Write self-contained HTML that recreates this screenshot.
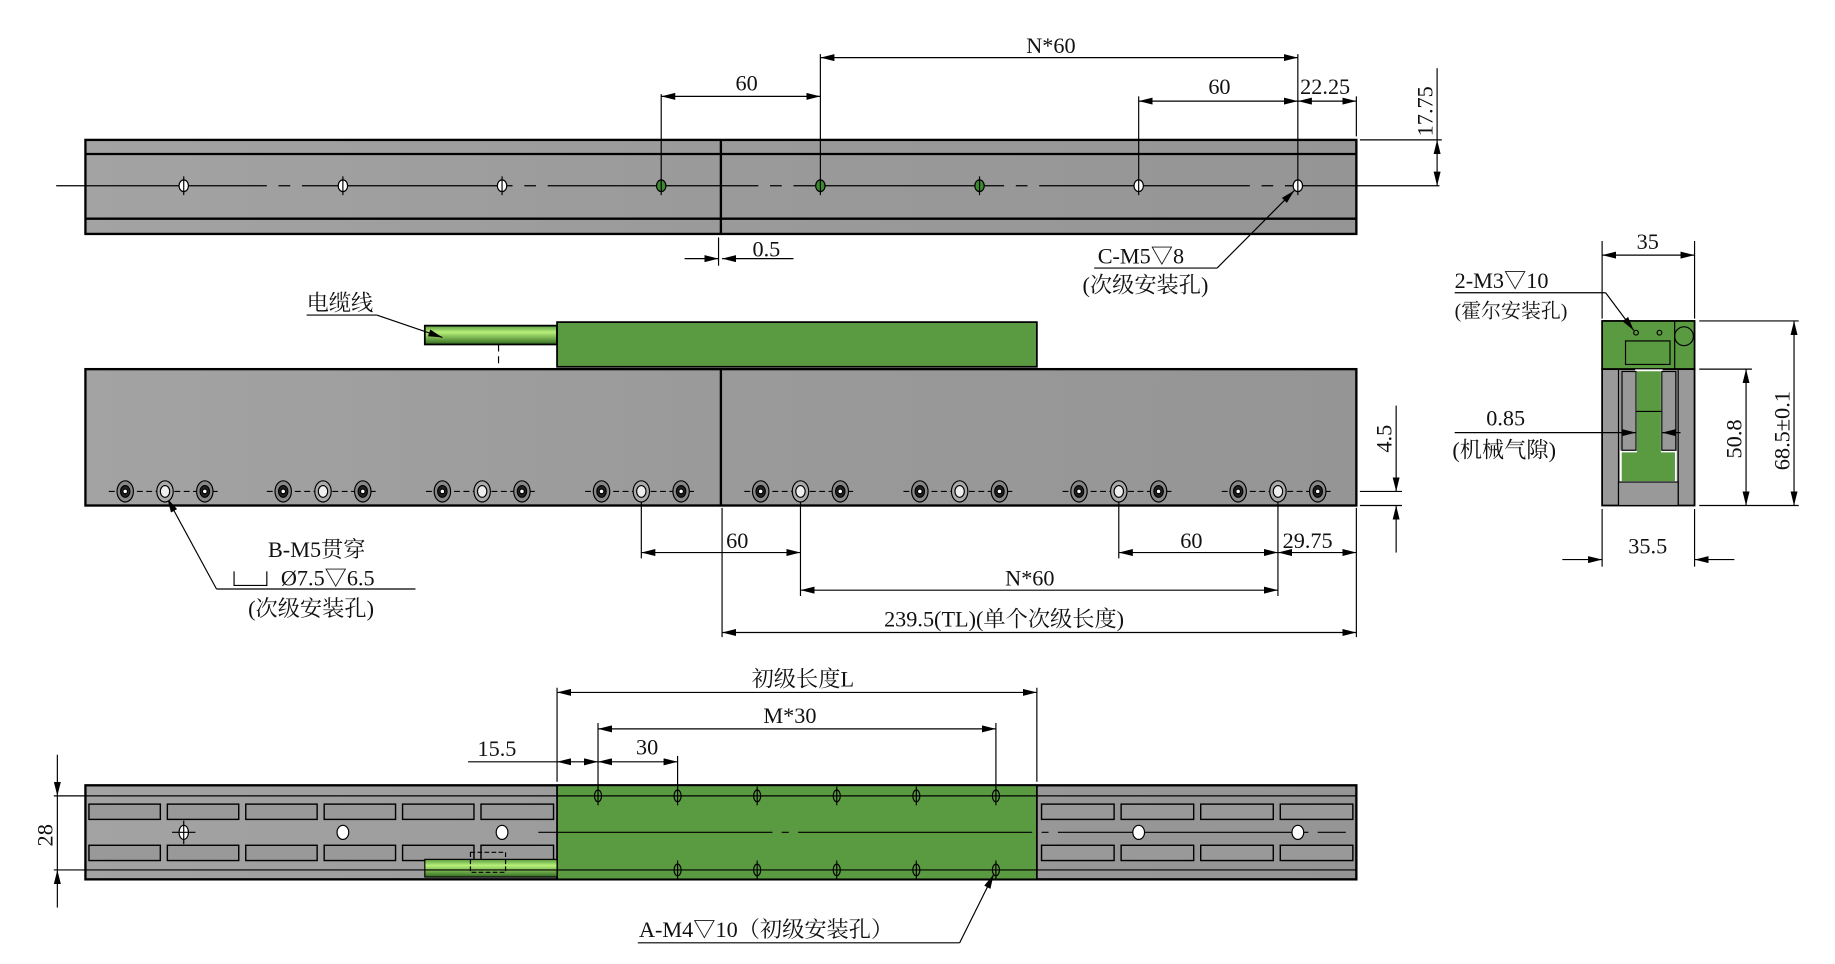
<!DOCTYPE html>
<html><head><meta charset="utf-8"><style>
html,body{margin:0;padding:0;background:#fff;}
svg{display:block;}
text{font-family:"Liberation Serif","Noto Serif CJK SC",serif;font-size:19px;fill:#111;}
</style></head><body>
<svg width="1835" height="964" viewBox="0 0 1568 820" preserveAspectRatio="none" xmlns="http://www.w3.org/2000/svg">
<defs>
<marker id="a" viewBox="0 0 12 6" refX="12" refY="3" markerWidth="12" markerHeight="6" orient="auto-start-reverse" markerUnits="userSpaceOnUse"><path d="M0,0 L12,3 L0,6z" fill="#000"/></marker>
<linearGradient id="g" x1="0" x2="1"><stop offset="0" stop-color="#a3a3a3"/><stop offset=".5" stop-color="#9a9a9a"/><stop offset="1" stop-color="#959595"/></linearGradient>
<linearGradient id="cab" x1="0" y1="0" x2="0" y2="1"><stop offset="0" stop-color="#5a9a40"/><stop offset=".35" stop-color="#b8f07a"/><stop offset="1" stop-color="#2f6a20"/></linearGradient>
</defs>
<g stroke="#000" stroke-width="1.3" fill="none">
<!-- TOP VIEW -->
<rect x="73" y="119" width="1086" height="80" fill="url(#g)" stroke-width="2"/>
<line x1="73" y1="131" x2="1159" y2="131" stroke-width="2"/>
<line x1="73" y1="186" x2="1159" y2="186" stroke-width="2"/>
<line x1="616" y1="119" x2="616" y2="199" stroke-width="2"/>
<line x1="48" y1="158" x2="1230" y2="158" stroke-width="1" stroke-dasharray="180,10,10,10"/>
<g stroke-width="1">
<ellipse cx="157" cy="158" rx="4" ry="5" fill="#fff"/><ellipse cx="293" cy="158" rx="4" ry="5" fill="#fff"/><ellipse cx="429" cy="158" rx="4" ry="5" fill="#fff"/>
<ellipse cx="565" cy="158" rx="4" ry="5" fill="#3c8a30"/><ellipse cx="701" cy="158" rx="4" ry="5" fill="#3c8a30"/><ellipse cx="837" cy="158" rx="4" ry="5" fill="#3c8a30"/>
<ellipse cx="973" cy="158" rx="4" ry="5" fill="#fff"/><ellipse cx="1109" cy="158" rx="4" ry="5" fill="#fff"/>
<line x1="157" y1="150" x2="157" y2="166"/><line x1="293" y1="150" x2="293" y2="166"/><line x1="429" y1="150" x2="429" y2="166"/>
<line x1="565" y1="80" x2="565" y2="166"/><line x1="701" y1="46" x2="701" y2="166"/><line x1="837" y1="150" x2="837" y2="166"/>
<line x1="973" y1="82" x2="973" y2="166"/><line x1="1109" y1="46" x2="1109" y2="166"/>
<line x1="1159" y1="82" x2="1159" y2="116"/>
<line x1="1162" y1="119" x2="1232" y2="119"/>
<line x1="565" y1="82" x2="701" y2="82" marker-start="url(#a)" marker-end="url(#a)"/>
<line x1="701" y1="49" x2="1109" y2="49" marker-start="url(#a)" marker-end="url(#a)"/>
<line x1="973" y1="86" x2="1109" y2="86" marker-start="url(#a)" marker-end="url(#a)"/>
<line x1="1109" y1="86" x2="1159" y2="86" marker-start="url(#a)" marker-end="url(#a)"/>
<line x1="1228" y1="58" x2="1228" y2="119"/>
<line x1="1228" y1="119" x2="1228" y2="158" marker-start="url(#a)" marker-end="url(#a)"/>
<line x1="614" y1="202" x2="614" y2="226"/>
<line x1="585" y1="220" x2="614" y2="220" marker-end="url(#a)"/>
<line x1="678" y1="220" x2="617" y2="220" marker-end="url(#a)"/>
<line x1="1040" y1="228" x2="1106" y2="162" marker-end="url(#a)"/>
<line x1="935" y1="228" x2="1040" y2="228"/>
</g>
<!-- MIDDLE VIEW -->
<rect x="363" y="277" width="113" height="16" fill="url(#cab)" stroke-width="1.5"/>
<rect x="476" y="274" width="410" height="38" fill="#5a9a40" stroke-width="1.5"/>
<line x1="426" y1="293" x2="426" y2="314" stroke-width="1" stroke-dasharray="6,4"/>
<rect x="73" y="314" width="1086" height="116" fill="url(#g)" stroke-width="2"/>
<line x1="616" y1="314" x2="616" y2="430" stroke-width="2"/>
<g stroke-width="1">
<line x1="262" y1="268" x2="322" y2="268"/>
<line x1="322" y1="268" x2="378" y2="287" marker-end="url(#a)"/>
<line x1="548" y1="420" x2="548" y2="475"/><line x1="684" y1="420" x2="684" y2="507"/>
<line x1="956" y1="420" x2="956" y2="475"/><line x1="1092" y1="420" x2="1092" y2="507"/>
<line x1="617" y1="432" x2="617" y2="542"/><line x1="1159" y1="432" x2="1159" y2="542"/>
<line x1="548" y1="470" x2="684" y2="470" marker-start="url(#a)" marker-end="url(#a)"/>
<line x1="956" y1="470" x2="1092" y2="470" marker-start="url(#a)" marker-end="url(#a)"/>
<line x1="1092" y1="470" x2="1159" y2="470" marker-start="url(#a)" marker-end="url(#a)"/>
<line x1="684" y1="502" x2="1092" y2="502" marker-start="url(#a)" marker-end="url(#a)"/>
<line x1="617" y1="538" x2="1159" y2="538" marker-start="url(#a)" marker-end="url(#a)"/>
<line x1="1162" y1="418" x2="1198" y2="418"/><line x1="1162" y1="430" x2="1198" y2="430"/>
<line x1="1193" y1="345" x2="1193" y2="418" marker-end="url(#a)"/>
<line x1="1193" y1="470" x2="1193" y2="430" marker-end="url(#a)"/>
<line x1="185" y1="501" x2="143" y2="424" marker-end="url(#a)"/>
<line x1="185" y1="501" x2="355" y2="501"/>
<polyline points="200,486 200,498 228,498 228,486"/>
</g>
<g stroke-width="1">
<g id="trio">
<line x1="93" y1="418" x2="189" y2="418" stroke-dasharray="5,3"/>
<ellipse cx="107" cy="418" rx="7" ry="9" fill="#888"/><ellipse cx="107" cy="418" rx="4" ry="5" fill="#222"/><circle cx="107" cy="418" r="2" fill="#fff"/>
<ellipse cx="141" cy="418" rx="7" ry="9" fill="#aaa"/><ellipse cx="141" cy="418" rx="4" ry="5" fill="#eee"/>
<ellipse cx="175" cy="418" rx="7" ry="9" fill="#888"/><ellipse cx="175" cy="418" rx="4" ry="5" fill="#222"/><circle cx="175" cy="418" r="2" fill="#fff"/>
</g>
<use href="#trio" x="135"/><use href="#trio" x="271"/><use href="#trio" x="407"/>
<use href="#trio" x="543"/><use href="#trio" x="679"/><use href="#trio" x="815"/><use href="#trio" x="951"/>
</g>
<!-- SIDE VIEW -->
<rect x="1369" y="273" width="79" height="41" fill="#5a9a40" stroke-width="1.5"/>
<circle cx="1439" cy="286" r="8" fill="#5a9a40" stroke-width="1"/>
<line x1="1431" y1="273" x2="1431" y2="314" stroke-width="1"/>
<rect x="1389" y="290" width="38" height="20" stroke-width="1"/>
<circle cx="1398" cy="283" r="2" stroke-width="1"/><circle cx="1418" cy="283" r="2" stroke-width="1"/>
<rect x="1369" y="314" width="79" height="116" fill="#999" stroke-width="1.5"/>
<line x1="1383" y1="314" x2="1383" y2="430" stroke-width="1"/><line x1="1434" y1="314" x2="1434" y2="430" stroke-width="1"/>
<path d="M1398,315 H1420 V384 H1432 V410 H1385 V384 H1398 Z" fill="#5a9a40" stroke="#fff" stroke-width="1.5"/>
<rect x="1386" y="316" width="12" height="67" fill="#999" stroke-width="1"/>
<rect x="1420" y="316" width="12" height="67" fill="#999" stroke-width="1"/>
<line x1="1398" y1="350" x2="1420" y2="350" stroke-width="1"/>
<rect x="1383" y="410" width="51" height="20" fill="#999" stroke-width="1"/>
<g stroke-width="1">
<line x1="1369" y1="271" x2="1369" y2="205"/><line x1="1448" y1="271" x2="1448" y2="205"/>
<line x1="1369" y1="217" x2="1448" y2="217" marker-start="url(#a)" marker-end="url(#a)"/>
<line x1="1369" y1="433" x2="1369" y2="482"/><line x1="1448" y1="433" x2="1448" y2="482"/>
<line x1="1335" y1="476" x2="1369" y2="476" marker-end="url(#a)"/>
<line x1="1482" y1="476" x2="1448" y2="476" marker-end="url(#a)"/>
<line x1="1452" y1="273" x2="1537" y2="273"/><line x1="1452" y1="314" x2="1497" y2="314"/><line x1="1452" y1="430" x2="1537" y2="430"/>
<line x1="1492" y1="314" x2="1492" y2="430" marker-start="url(#a)" marker-end="url(#a)"/>
<line x1="1533" y1="273" x2="1533" y2="430" marker-start="url(#a)" marker-end="url(#a)"/>
<line x1="1243" y1="249" x2="1372" y2="249"/>
<line x1="1372" y1="249" x2="1396" y2="281" marker-end="url(#a)"/>
<line x1="1243" y1="368" x2="1398" y2="368" marker-end="url(#a)"/>
<line x1="1436" y1="368" x2="1420" y2="368" marker-end="url(#a)"/>
</g>
<!-- BOTTOM VIEW -->
<rect x="73" y="668" width="1086" height="80" fill="url(#g)" stroke-width="2"/>
<g stroke-width="1.2" fill="#999">
<g id="slots">
<rect x="76" y="684" width="61" height="13"/><rect x="143" y="684" width="61" height="13"/><rect x="210" y="684" width="61" height="13"/><rect x="277" y="684" width="61" height="13"/><rect x="344" y="684" width="61" height="13"/><rect x="411" y="684" width="62" height="13"/>
</g>
<use href="#slots" y="35"/>
<g id="slots2">
<rect x="890" y="684" width="62" height="13"/><rect x="958" y="684" width="62" height="13"/><rect x="1026" y="684" width="62" height="13"/><rect x="1094" y="684" width="62" height="13"/>
</g>
<use href="#slots2" y="35"/>
</g>
<rect x="476" y="668" width="410" height="80" fill="#5a9a40" stroke-width="1.5"/>
<rect x="363" y="731" width="113" height="15" fill="url(#cab)" stroke-width="1"/>
<rect x="402" y="725" width="30" height="17" stroke-width="1" stroke-dasharray="4,2"/>
<g stroke-width="1">
<line x1="46" y1="677" x2="1159" y2="677"/><line x1="46" y1="740" x2="1159" y2="740"/>
<line x1="460" y1="708" x2="1150" y2="708" stroke-dasharray="200,8,6,8"/>
<ellipse cx="157" cy="708" rx="4" ry="6" fill="#fff"/><line x1="147" y1="708" x2="167" y2="708"/><line x1="157" y1="698" x2="157" y2="718"/>
<ellipse cx="293" cy="708" rx="5" ry="6" fill="#fff"/><ellipse cx="429" cy="708" rx="5" ry="6" fill="#fff"/>
<ellipse cx="973" cy="708" rx="5" ry="6" fill="#fff"/><ellipse cx="1109" cy="708" rx="5" ry="6" fill="#fff"/>
<g id="h"><ellipse cx="511" cy="677" rx="3" ry="5"/><line x1="511" y1="669" x2="511" y2="685"/></g>
<use href="#h" x="68"/><use href="#h" x="136"/><use href="#h" x="204"/><use href="#h" x="272"/><use href="#h" x="340"/>
<use href="#h" x="68" y="63"/><use href="#h" x="136" y="63"/><use href="#h" x="204" y="63"/><use href="#h" x="272" y="63"/><use href="#h" x="340" y="63"/>
<line x1="476" y1="585" x2="476" y2="665"/><line x1="886" y1="585" x2="886" y2="665"/>
<line x1="511" y1="615" x2="511" y2="670"/><line x1="851" y1="615" x2="851" y2="670"/><line x1="579" y1="643" x2="579" y2="670"/>
<line x1="476" y1="589" x2="886" y2="589" marker-start="url(#a)" marker-end="url(#a)"/>
<line x1="511" y1="620" x2="851" y2="620" marker-start="url(#a)" marker-end="url(#a)"/>
<line x1="511" y1="648" x2="579" y2="648" marker-start="url(#a)" marker-end="url(#a)"/>
<line x1="400" y1="648" x2="476" y2="648"/>
<line x1="476" y1="648" x2="511" y2="648" marker-start="url(#a)" marker-end="url(#a)"/>
<line x1="49" y1="642" x2="49" y2="677" marker-end="url(#a)"/>
<line x1="49" y1="772" x2="49" y2="740" marker-end="url(#a)"/>
<line x1="49" y1="677" x2="49" y2="740"/>
<line x1="545" y1="802" x2="820" y2="802"/>
<line x1="820" y1="802" x2="849" y2="744" marker-end="url(#a)"/>
</g>
</g>
<!-- TEXT -->
<text x="638" y="77" text-anchor="middle">60</text>
<text x="898" y="45" text-anchor="middle">N*60</text>
<text x="1042" y="80" text-anchor="middle">60</text>
<text x="1111" y="80">22.25</text>
<text transform="translate(1224,116) rotate(-90)">17.75</text>
<text x="643" y="218">0.5</text>
<text x="938" y="224">C-M5▽8</text>
<text x="925" y="249">(次级安装孔)</text>
<text x="262" y="264">电缆线</text>
<text transform="translate(1189,385) rotate(-90)">4.5</text>
<text x="630" y="466" text-anchor="middle">60</text>
<text x="1018" y="466" text-anchor="middle">60</text>
<text x="1096" y="466">29.75</text>
<text x="880" y="498" text-anchor="middle">N*60</text>
<text x="858" y="533" text-anchor="middle">239.5(TL)(单个次级长度)</text>
<text x="229" y="474">B-M5贯穿</text>
<text x="240" y="498">Ø7.5▽6.5</text>
<text x="212" y="524">(次级安装孔)</text>
<text x="1408" y="212" text-anchor="middle">35</text>
<text x="1243" y="245">2-M3▽10</text>
<text x="1243" y="270" style="font-size:17px">(霍尔安装孔)</text>
<text x="1270" y="362">0.85</text>
<text x="1241" y="389">(机械气隙)</text>
<text transform="translate(1488,390) rotate(-90)">50.8</text>
<text transform="translate(1529,400) rotate(-90)">68.5±0.1</text>
<text x="1408" y="471" text-anchor="middle">35.5</text>
<text x="686" y="584" text-anchor="middle">初级长度L</text>
<text x="675" y="615" text-anchor="middle">M*30</text>
<text x="553" y="642" text-anchor="middle">30</text>
<text x="408" y="643">15.5</text>
<text transform="translate(45,720) rotate(-90)">28</text>
<text x="546" y="797">A-M4▽10（初级安装孔）</text>
</svg>
</body></html>
